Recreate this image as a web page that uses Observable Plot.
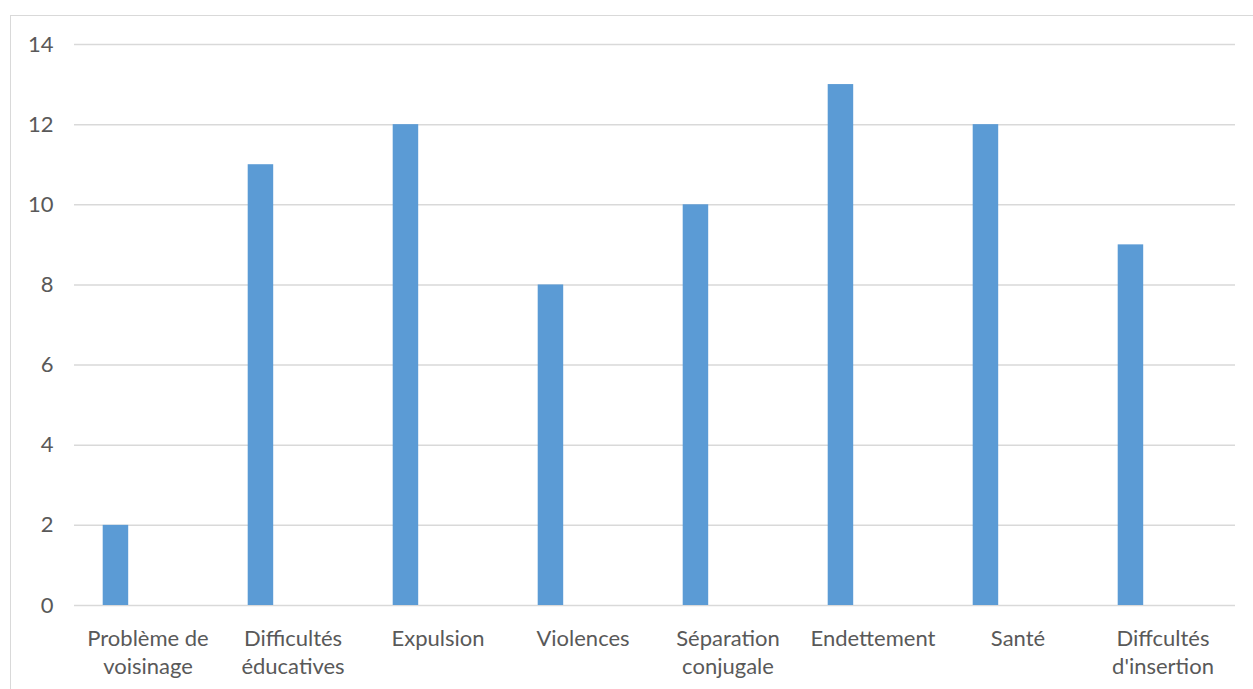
<!DOCTYPE html>
<html><head><meta charset="utf-8">
<script src="https://cdn.jsdelivr.net/npm/d3@7"></script>
<script src="https://cdn.jsdelivr.net/npm/@observablehq/plot@0.6"></script>
<style>
html,body{margin:0;padding:0;background:#fff;overflow:hidden;}
#frame{position:absolute;left:10px;top:15px;width:1400px;height:800px;border:1px solid #d9d9d9;box-sizing:border-box;}
#chart{position:absolute;left:0;top:0;}
</style></head>
<body>
<div id="frame"></div>
<div id="chart"></div>
<script>
const categories = ["Problème de voisinage","Difficultés éducatives","Expulsion","Violences","Séparation conjugale","Endettement","Santé","Diffcultés d'insertion"];
const tickLabels = ["Problème de\nvoisinage","Difficultés\néducatives","Expulsion","Violences","Séparation\nconjugale","Endettement","Santé","Diffcultés\nd'insertion"];
const values = [2,11,12,8,10,13,12,9];
const yTicks = [0,2,4,6,8,10,12,14];

const data = categories.map((c,i)=>({category:c, value:values[i]}));
const labelOf = new Map(categories.map((c,i)=>[c,tickLabels[i]]));

const chart = Plot.plot({
  width:1253, height:689,
  marginLeft:74, marginRight:18, marginTop:44, marginBottom:84,
  style:{fontFamily:"Lato, 'Open Sans', sans-serif", fontSize:"22px", color:"#595959", background:"transparent"},
  x:{domain:categories, padding:0},
  y:{domain:[0,14]},
  marks:[
    Plot.gridY(yTicks,{stroke:"#d9d9d9", strokeOpacity:1, strokeWidth:1.5}),
    Plot.barY(data,{x:"category", y:"value", fill:"#5b9bd5", insetLeft:27.7, insetRight:91.8}),
    Plot.axisY(yTicks,{tickSize:0, tickPadding:21, fontSize:22, fill:"#595959", label:null}),
    Plot.axisX({tickSize:0, tickPadding:20, fontSize:22, fill:"#595959", lineHeight:1.28, tickFormat:d=>labelOf.get(d), label:null})
  ]
});
document.getElementById("chart").appendChild(chart);
</script>
</body></html>
